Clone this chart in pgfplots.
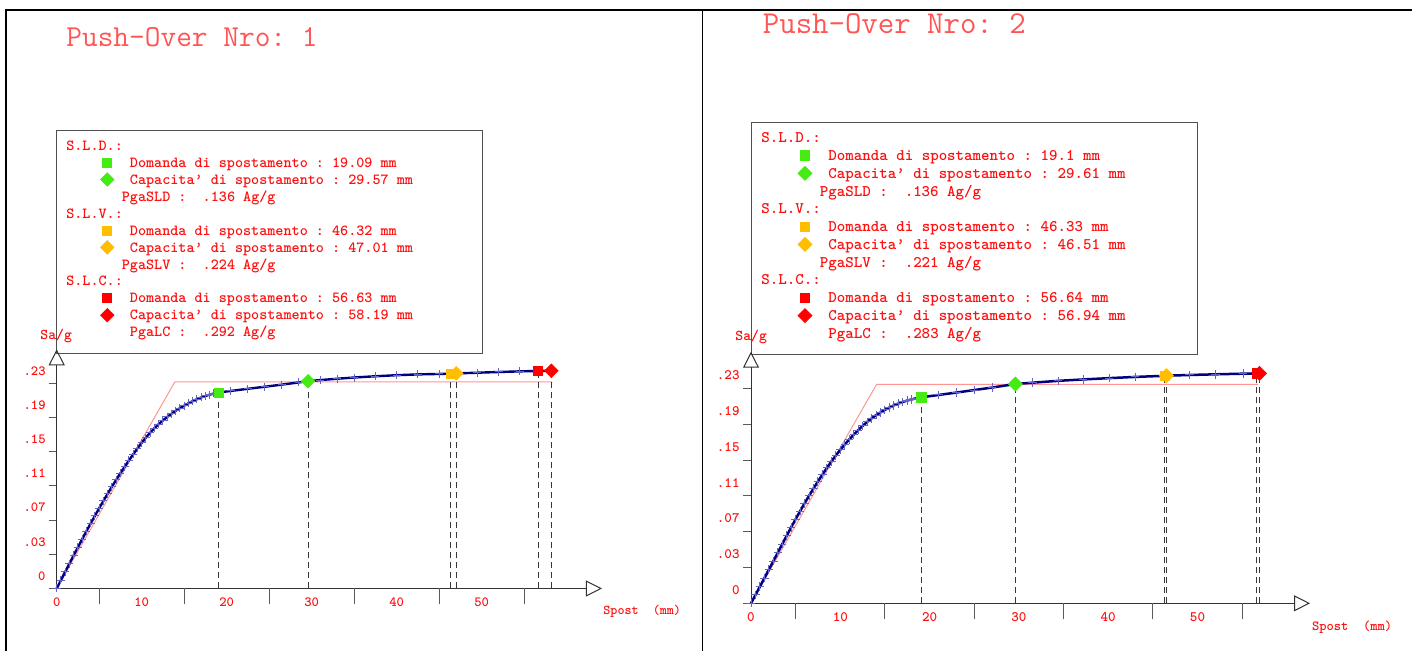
\documentclass[border=0pt]{standalone}
\usepackage{fontspec}
\usepackage{pgfplots}
\usepackage{pgfplotstable}
\pgfplotsset{compat=1.18}
\usetikzlibrary{arrows.meta}
\newfontfamily\monob{lmmonolt10-bold}[Extension=.otf]
\frenchspacing
\definecolor{tred}{RGB}{255,15,15}
\definecolor{ttl}{RGB}{255,85,85}
\definecolor{pinkl}{RGB}{255,150,150}
\definecolor{navyc}{RGB}{0,0,128}
\definecolor{markc}{RGB}{100,100,200}
\definecolor{gA}{RGB}{70,235,20}
\definecolor{oA}{RGB}{255,190,0}
\definecolor{rA}{RGB}{255,0,0}
\definecolor{axc}{RGB}{50,50,50}
\definecolor{tickc}{RGB}{90,90,90}
\definecolor{boxc}{RGB}{80,80,80}
\definecolor{dashc}{RGB}{55,55,55}

\pgfplotstableread{
x y
0 0
0.5 0.0094
1 0.0188
1.5 0.0281
2 0.0374
2.5 0.0465
3 0.0556
3.5 0.0645
4 0.0733
4.5 0.0819
5 0.0904
5.5 0.0987
6 0.1068
6.5 0.1147
7 0.1224
7.5 0.1299
8 0.1372
8.5 0.1443
9 0.1511
9.5 0.1577
10 0.1640
10.5 0.1700
11 0.1755
11.5 0.1805
12 0.1851
12.5 0.1893
13 0.1932
13.5 0.1968
14 0.2001
14.5 0.2031
15 0.2059
15.5 0.2085
16 0.2109
16.5 0.2131
17 0.2151
17.5 0.2168
18 0.2183
18.5 0.2196
19.09 0.2207
20.5 0.2225
22.5 0.2249
24.5 0.2272
26.5 0.2296
28.5 0.2321
29.57 0.2334
31 0.2347
33 0.2362
35 0.2376
37.5 0.2390
40 0.2402
42.5 0.2411
45 0.2416
46.32 0.2419
47.01 0.2422
49.5 0.2430
52 0.2438
54.5 0.2445
56.63 0.2450
58.19 0.2452
}\curveA

\pgfplotstableread{
x y
0 0
0.5 0.0090
1 0.0180
1.5 0.0271
2 0.0362
2.5 0.0453
3 0.0545
3.5 0.0636
4 0.0727
4.5 0.0817
5 0.0905
5.5 0.0991
6 0.1075
6.5 0.1156
7 0.1235
7.5 0.1311
8 0.1385
8.5 0.1456
9 0.1525
9.5 0.1589
10 0.1650
10.5 0.1708
11 0.1762
11.5 0.1813
12 0.1862
12.5 0.1907
13 0.1950
13.5 0.1988
14 0.2022
14.5 0.2052
15 0.2080
15.5 0.2105
16 0.2128
16.5 0.2148
17 0.2165
17.5 0.2180
18 0.2193
18.5 0.2204
19.1 0.2215
21 0.2240
23 0.2266
25 0.2293
27 0.2320
29.61 0.2358
31.5 0.2372
34.4 0.2392
37.2 0.2407
40.1 0.2421
43 0.2434
46.33 0.2446
46.51 0.2447
49.1 0.2455
52 0.2462
55.1 0.2469
56.64 0.2472
56.94 0.2473
}\curveB

\pgfplotsset{
  po/.style={
    axis lines=left,
    axis line style={draw=axc, line width=0.5pt, -{Triangle[open,length=8pt,width=8pt]}},
    enlargelimits=false, clip=false,
    xmin=0, ymin=0,
    tick align=outside,
    major tick length=4pt,
    tick style={draw=tickc, line width=0.5pt},
    xtick={0,10,20,30,40,50},
    xticklabels={0,10,20,30,40,50},
    xtick style={draw=none},
    extra x ticks={5,15,25,35,45,55},
    extra x tick labels={},
    extra x tick style={major tick length=8pt, xtick style={draw=tickc}},
    ytick={0,0.0385,0.077,0.1155,0.154,0.1925,0.231},
    yticklabels={0,.03,.07,.11,.15,.19,.23},
    tick label style={text=tred, inner sep=0pt},
    xticklabel style={anchor=north, yshift=-0.45pt},
    legend cell align=left,
    legend image code/.code={\pgfpathmoveto{\pgfqpoint{-4pt}{0pt}}\pgfpathmoveto{\pgfqpoint{4pt}{0pt}}\pgfusepath{}\draw[##1] plot coordinates {(0pt,0pt)};},
  },
  dl/.style={dashc, dash pattern=on 3pt off 2pt, line width=0.5pt, forget plot},
}

\begin{document}
\begin{tikzpicture}[x=0.5pt,y=0.5pt]
\useasboundingbox (0,0) rectangle (1412,651);
\fill[white] (0,0) rectangle (1412,651);
% frames
\draw[black, line width=0.6pt] (6,0) -- (6,641) -- (1412,641);
\draw[black, line width=0.6pt] (702.5,0) -- (702.5,641);
% titles
\node[anchor=base west, inner sep=0pt, text=ttl, font=\ttfamily\fontsize{15.24}{16}\selectfont] at (66,604.3) {Push-Over Nro: 1};
\node[anchor=base west, inner sep=0pt, text=ttl, font=\ttfamily\fontsize{15.95}{17}\selectfont] at (762.5,617.7) {Push-Over Nro: 2};
% legend boxes
\draw[boxc, line width=0.5pt] (56.7,520) rectangle (482.5,297.7);
\draw[boxc, line width=0.5pt] (751.7,528.7) rectangle (1197.5,296.2);
% axis names
\node[anchor=base west, inner sep=0pt, text=tred, font=\monob\fontsize{7.5}{8}\selectfont] at (40,311.5) {Sa/g};
\node[anchor=base west, inner sep=0pt, text=tred, font=\monob\fontsize{7.5}{8}\selectfont] at (735,310.3) {Sa/g};
\node[anchor=base west, inner sep=0pt, text=tred, font=\monob\fontsize{6.72}{8}\selectfont] at (603,36) {Spost~~(mm)};
\node[anchor=base west, inner sep=0pt, text=tred, font=\monob\fontsize{6.93}{8}\selectfont] at (1311.7,20.3) {Spost~~(mm)};

% ---------------- left panel
\begin{axis}[po,
  at={(28.35pt,31.25pt)}, anchor=south west,
  x=4.25pt, y=444pt, xmax=64.15, ymax=0.2694,
  tick label style={font=\monob\fontsize{7}{8}\selectfont},
  yticklabel style={anchor=east, xshift=-1.35pt, yshift=6.25pt},
  legend style={draw=none, fill=none, inner sep=0pt, outer sep=0pt,
    at={(0.0781,1.8867)}, anchor=north west,
    font=\monob\fontsize{7.7}{8}\selectfont, row sep=0pt, column sep=7.35pt,
    nodes={inner sep=0pt, outer sep=0pt, text=tred, text height=6.59pt, text depth=1.89pt}},
]
\addplot[pinkl, line width=0.5pt, forget plot] coordinates {(0,0) (13.9,0.2327) (58.3,0.2327)};
\addplot[dl] coordinates {(19.09,0) (19.09,0.2207)};
\addplot[dl] coordinates {(29.57,0) (29.57,0.2334)};
\addplot[dl] coordinates {(46.32,0) (46.32,0.2419)};
\addplot[dl] coordinates {(47.01,0) (47.01,0.2422)};
\addplot[dl] coordinates {(56.63,0) (56.63,0.2450)};
\addplot[dl] coordinates {(58.19,0) (58.19,0.2452)};
\addplot[only marks, mark=+, mark size=2pt, markc, line width=0.5pt, forget plot] table {\curveA};
\addplot[navyc, line width=1.2pt, forget plot] table {\curveA};
\addlegendimage{empty legend}\addlegendentry{\makebox[0pt][l]{\hspace*{-4.2em}S.L.D.:}}
\addplot[gA, mark=square*, mark size=2.25pt] coordinates {(19.09,0.2207)};
\addlegendentry{Domanda di spostamento : 19.09 mm}
\addplot[gA, mark=square*, mark size=2.35pt, mark options={rotate=45}] coordinates {(29.57,0.2334)};
\addlegendentry{Capacita’ di spostamento : 29.57 mm}
\addlegendimage{empty legend}\addlegendentry{\hspace*{-0.525em}PgaSLD~:~~.136~Ag/g}
\addlegendimage{empty legend}\addlegendentry{\makebox[0pt][l]{\hspace*{-4.2em}S.L.V.:}}
\addplot[oA, mark=square*, mark size=2.25pt] coordinates {(46.32,0.2419)};
\addlegendentry{Domanda di spostamento : 46.32 mm}
\addplot[oA, mark=square*, mark size=2.35pt, mark options={rotate=45}] coordinates {(47.01,0.2422)};
\addlegendentry{Capacita’ di spostamento : 47.01 mm}
\addlegendimage{empty legend}\addlegendentry{\hspace*{-0.525em}PgaSLV~:~~.224~Ag/g}
\addlegendimage{empty legend}\addlegendentry{\makebox[0pt][l]{\hspace*{-4.2em}S.L.C.:}}
\addplot[rA, mark=square*, mark size=2.25pt] coordinates {(56.63,0.2450)};
\addlegendentry{Domanda di spostamento : 56.63 mm}
\addplot[rA, mark=square*, mark size=2.35pt, mark options={rotate=45}] coordinates {(58.19,0.2452)};
\addlegendentry{Capacita’ di spostamento : 58.19 mm}
\addlegendimage{empty legend}\addlegendentry{PgaLC~:~~.292~Ag/g}
\end{axis}

% ---------------- right panel
\begin{axis}[po,
  at={(375.5pt,23.85pt)}, anchor=south west,
  x=4.465pt, y=465pt, xmax=62.6, ymax=0.2705,
  tick label style={font=\monob\fontsize{7.2}{8}\selectfont},
  yticklabel style={anchor=east, xshift=-1.5pt, yshift=6.65pt},
  legend style={draw=none, fill=none, inner sep=0pt, outer sep=0pt,
    at={(0.0823,1.886)}, anchor=north west,
    font=\monob\fontsize{8.09}{9}\selectfont, row sep=0pt, column sep=7.65pt,
    nodes={inner sep=0pt, outer sep=0pt, text=tred, text height=6.91pt, text depth=1.98pt}},
]
\addplot[pinkl, line width=0.5pt, forget plot] coordinates {(0,0) (14.07,0.2355) (56.8,0.2355)};
\addplot[dl] coordinates {(19.1,0) (19.1,0.2215)};
\addplot[dl] coordinates {(29.61,0) (29.61,0.2358)};
\addplot[dl] coordinates {(46.33,0) (46.33,0.2446)};
\addplot[dl] coordinates {(46.51,0) (46.51,0.2447)};
\addplot[dl] coordinates {(56.64,0) (56.64,0.2472)};
\addplot[dl] coordinates {(56.94,0) (56.94,0.2473)};
\addplot[only marks, mark=+, mark size=2.1pt, markc, line width=0.5pt, forget plot] table {\curveB};
\addplot[navyc, line width=1.25pt, forget plot] table {\curveB};
\addlegendimage{empty legend}\addlegendentry{\makebox[0pt][l]{\hspace*{-4.2em}S.L.D.:}}
\addplot[gA, mark=square*, mark size=2.35pt] coordinates {(19.1,0.2215)};
\addlegendentry{Domanda di spostamento : 19.1 mm}
\addplot[gA, mark=square*, mark size=2.45pt, mark options={rotate=45}] coordinates {(29.61,0.2358)};
\addlegendentry{Capacita’ di spostamento : 29.61 mm}
\addlegendimage{empty legend}\addlegendentry{\hspace*{-0.525em}PgaSLD~:~~.136~Ag/g}
\addlegendimage{empty legend}\addlegendentry{\makebox[0pt][l]{\hspace*{-4.2em}S.L.V.:}}
\addplot[oA, mark=square*, mark size=2.35pt] coordinates {(46.33,0.2446)};
\addlegendentry{Domanda di spostamento : 46.33 mm}
\addplot[oA, mark=square*, mark size=2.45pt, mark options={rotate=45}] coordinates {(46.51,0.2447)};
\addlegendentry{Capacita’ di spostamento : 46.51 mm}
\addlegendimage{empty legend}\addlegendentry{\hspace*{-0.525em}PgaSLV~:~~.221~Ag/g}
\addlegendimage{empty legend}\addlegendentry{\makebox[0pt][l]{\hspace*{-4.2em}S.L.C.:}}
\addplot[rA, mark=square*, mark size=2.35pt] coordinates {(56.64,0.2472)};
\addlegendentry{Domanda di spostamento : 56.64 mm}
\addplot[rA, mark=square*, mark size=2.45pt, mark options={rotate=45}] coordinates {(56.94,0.2473)};
\addlegendentry{Capacita’ di spostamento : 56.94 mm}
\addlegendimage{empty legend}\addlegendentry{PgaLC~:~~.283~Ag/g}
\end{axis}
\end{tikzpicture}
\end{document}
